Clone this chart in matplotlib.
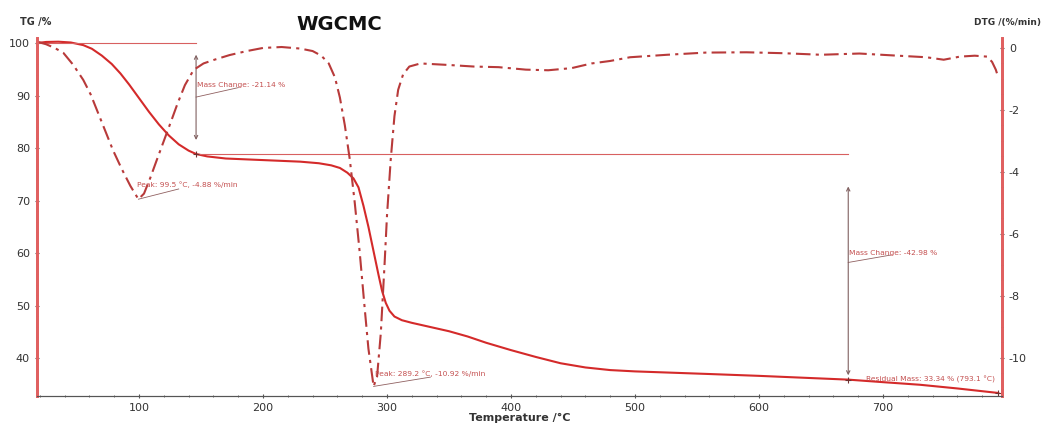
import matplotlib.pyplot as plt
from matplotlib.ticker import MultipleLocator

# === Dati ===
temp_tg = [18, 25, 35, 45, 55, 62, 70, 78, 85, 92, 100, 108, 116, 124, 132, 140, 146,
           155, 170, 190, 210, 230, 245, 255, 262, 268, 273, 277, 281, 285, 289, 293,
           296, 299, 302, 306, 312, 320, 335, 350, 365, 380, 400, 420, 440, 460, 480,
           500, 530, 560, 600, 640, 672, 700, 730, 760, 793]
tg = [100.0, 100.2, 100.25, 100.1, 99.6, 98.9, 97.6, 96.0, 94.2, 92.1, 89.5, 86.9, 84.5,
      82.4, 80.7, 79.5, 78.86, 78.4, 78.0, 77.8, 77.6, 77.4, 77.1, 76.7, 76.2, 75.3, 74.2,
      72.5, 69.0, 65.0, 60.5, 56.0, 52.8, 50.5, 49.0, 47.9, 47.2, 46.7, 45.9, 45.1, 44.1,
      42.9, 41.5, 40.2, 39.0, 38.2, 37.7, 37.45, 37.2, 36.95, 36.6, 36.2, 35.88, 35.4,
      34.9, 34.2, 33.34]

temp_dtg = [18, 25, 32, 39, 47, 55, 61, 66, 72, 79, 86, 93, 99.5, 104, 109, 114, 120,
            126, 131, 137, 144, 152, 160, 173, 187, 200, 215, 230, 240, 247, 253, 258,
            262, 266, 270, 274, 278, 282, 285, 289.2, 292, 295, 298, 300, 303, 306, 309,
            313, 318, 327, 350, 370, 390, 412, 430, 449, 465, 480, 496, 526, 557, 590,
            620, 650, 681, 712, 735, 749, 762, 774, 784, 788, 791, 793]
dtg = [0.2, 0.12, 0.0, -0.16, -0.55, -1.03, -1.5, -2.0, -2.6, -3.3, -3.9, -4.45, -4.88,
       -4.7, -4.2, -3.65, -3.0, -2.35, -1.8, -1.2, -0.71, -0.5, -0.39, -0.23, -0.1, 0.0,
       0.03, -0.02, -0.1, -0.25, -0.5, -0.95, -1.6, -2.5, -3.6, -5.0, -6.6, -8.4, -9.7,
       -10.92, -10.6, -9.2, -7.0, -5.4, -3.6, -2.2, -1.35, -0.85, -0.6, -0.5, -0.55,
       -0.6, -0.62, -0.7, -0.72, -0.65, -0.5, -0.42, -0.3, -0.22, -0.15, -0.14, -0.17,
       -0.22, -0.18, -0.25, -0.3, -0.38, -0.28, -0.25, -0.28, -0.45, -0.7, -0.95]

peak1 = (99.5, -4.88)
peak2 = (289.2, -10.92)
mc1_x, mc1_top, mc1_bot = 146, 100.0, 78.86
mc2_x, mc2_bot = 672, 35.88
residuo = (793.1, 33.34)

rosso = '#d42a2a'
rosso_dtg = '#b83a3a'
testo_ann = '#c45050'
fs_ann = 5.4

fig = plt.figure(figsize=(10.42, 4.23), dpi=100)
ax = fig.add_axes([0.0355, 0.0638, 0.9261, 0.8463])
ax2 = ax.twinx()

# curva TG
ax.plot(temp_tg, tg, color=rosso, lw=1.5)
ax.set_xlim(17.7, 796)
ax.set_ylim(32.76, 100.95)

# curva DTG
ax2.plot(temp_dtg, dtg, color=rosso_dtg, lw=1.5, linestyle=(0, (7, 2.5, 1.5, 2.5)))
ax2.set_ylim(-11.23, 0.32)

# === Annotazioni ===
ax.plot([18, mc1_x], [mc1_top, mc1_top], color='#d86060', lw=0.8)
ax.plot([mc1_x, mc2_x], [mc1_bot, mc1_bot], color='#d86060', lw=0.8)
ax.annotate('', xy=(mc1_x, 81.0), xytext=(mc1_x, 98.3),
            arrowprops=dict(arrowstyle='<->', color='#806060', lw=0.8, mutation_scale=6))
ax.plot([mc1_x, 180], [89.7, 91.5], color='#906060', lw=0.6)
ax.text(mc1_x + 1, 91.6, 'Mass Change: -21.14 %', fontsize=fs_ann, color=testo_ann)

ax.annotate('', xy=(mc2_x, mc2_bot + 0.3), xytext=(mc2_x, 73.2),
            arrowprops=dict(arrowstyle='<->', color='#806060', lw=0.8, mutation_scale=6))
ax.plot([mc2_x, 706], [58.2, 59.6], color='#906060', lw=0.6)
ax.text(mc2_x + 1, 59.7, 'Mass Change: -42.98 %', fontsize=fs_ann, color=testo_ann)

ax.plot([mc1_x], [mc1_bot], marker='+', color='#703030', ms=4, mew=0.8)
ax.plot([mc2_x], [mc2_bot], marker='+', color='#703030', ms=4, mew=0.8)
ax.plot([residuo[0]], [residuo[1]], marker='+', color='#703030', ms=4, mew=0.8)
ax.text(686, 35.5, 'Residual Mass: 33.34 % (793.1 °C)', fontsize=fs_ann, color=testo_ann)

ax2.plot([peak1[0], 132], [peak1[1], -4.55], color='#906060', lw=0.6)
ax2.text(98, -4.5, 'Peak: 99.5 °C, -4.88 %/min', fontsize=fs_ann, color=testo_ann)
ax2.plot([peak2[0], 335], [peak2[1], -10.62], color='#906060', lw=0.6)
ax2.text(290, -10.58, 'Peak: 289.2 °C, -10.92 %/min', fontsize=fs_ann, color=testo_ann)

# === Assi ===
for a in (ax, ax2):
    a.spines['top'].set_visible(False)
    a.spines['bottom'].set_color('#555555')
    a.spines['left'].set_color('#e06060')
    a.spines['right'].set_color('#e06060')
    a.spines['left'].set_linewidth(2)
    a.spines['right'].set_linewidth(2)

ax.xaxis.set_major_locator(MultipleLocator(100))
ax.xaxis.set_minor_locator(MultipleLocator(20))
ax.yaxis.set_major_locator(MultipleLocator(10))
ax.yaxis.set_minor_locator(MultipleLocator(2))
ax2.yaxis.set_minor_locator(MultipleLocator(0.5))

ax.tick_params(axis='both', which='major', labelsize=8, labelcolor='#333333', length=3,
               direction='inout', color='#555555')
ax.tick_params(axis='both', which='minor', length=2, direction='inout', color='#555555')
ax2.tick_params(axis='y', which='major', labelsize=8, labelcolor='#333333', length=3,
                direction='inout', color='#555555')
ax2.tick_params(axis='y', which='minor', length=2, direction='inout', color='#555555')
ax2.set_yticks([0, -2, -4, -6, -8, -10])
ax2.set_yticklabels(['0', '-2', '-4', '-6', '-8', '-10'])

ax.set_xlabel('Temperature /°C', fontsize=8, fontweight='bold', color='#333333', labelpad=0)
fig.text(0.019, 0.94, 'TG /%', fontsize=7, fontweight='bold', color='#333333')
fig.text(0.999, 0.94, 'DTG /(%/min)', fontsize=6.5, fontweight='bold', color='#333333', ha='right')
fig.text(0.326, 0.93, 'WGCMC', fontsize=14, fontweight='bold', color='#111111', ha='center')

fig.savefig('out.png', dpi=100)
